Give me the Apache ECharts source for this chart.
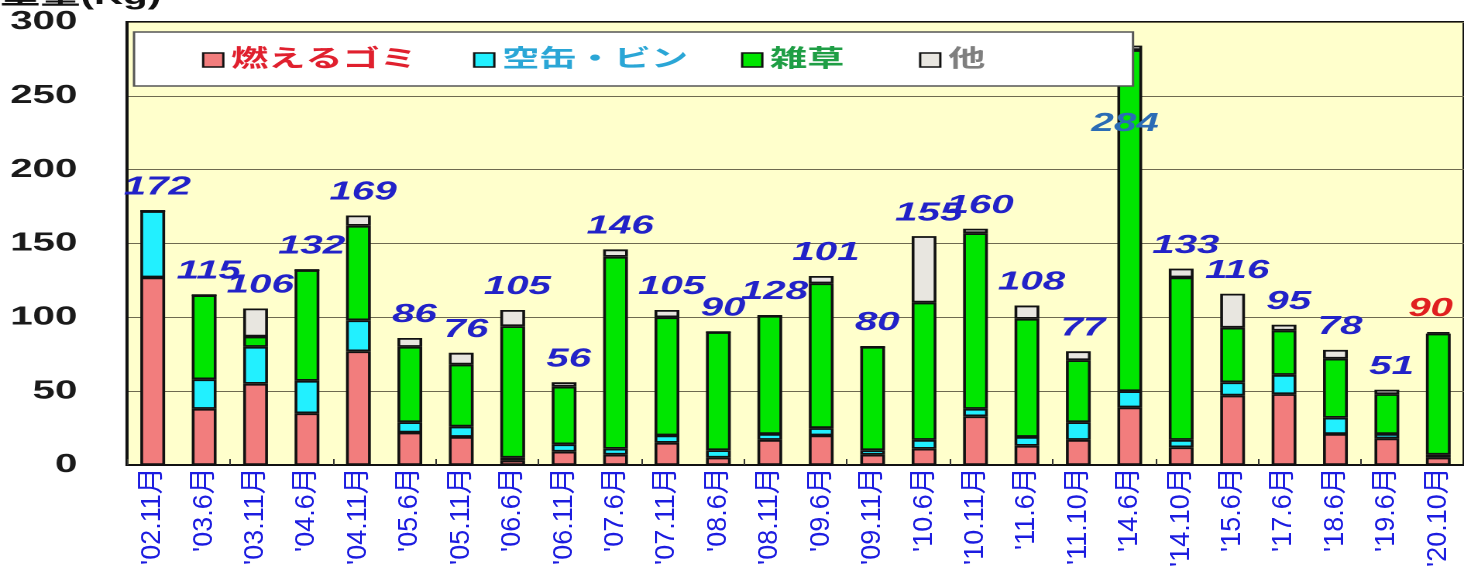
<!DOCTYPE html>
<html>
<head>
<meta charset="utf-8">
<script src="https://cdn.jsdelivr.net/npm/echarts@6/dist/echarts.min.js"></script>
<style>
html,body{margin:0;padding:0;background:#fff;overflow:hidden;}
#wrap{position:relative;width:1464px;height:570px;overflow:hidden;}
#a{position:absolute;left:0;top:0;width:945px;height:570px;transform-origin:0 0;transform:scaleX(1.54921);}
#b{position:absolute;left:0;top:0;width:1464px;height:570px;}
</style>
</head>
<body>
<div id="wrap"><div id="a"></div><div id="b"></div></div>
<script>
// ---- data ----
const categories = ["'02.11月","'03.6月","'03.11月","'04.6月","'04.11月","'05.6月","'05.11月","'06.6月","'06.11月","'07.6月","'07.11月","'08.6月","'08.11月","'09.6月","'09.11月","'10.6月","'10.11月","'11.6月","'11.10月","'14.6月","'14.10月","'15.6月","'17.6月","'18.6月","'19.6月","'20.10月"];
const burnable = [127,38,55,35,77,22,19,3,9,7,15,5,17,20,7,11,33,13,17,39,12,47,48,21,18,5];
const cans     = [45,20,25,22,21,7,7,2,5,4,5,5,4,5,3,6,5,6,12,11,5,9,13,11,3,2];
const weeds    = [0,57,7,75,64,51,42,89,39,130,80,80,80,98,70,93,119,80,42,231,110,37,30,40,27,82];
const other    = [0,0,19,0,7,6,8,11,3,5,5,0,0,5,0,45,3,9,6,3,6,23,4,6,3,1];
const totalLabels = ["172","115","106","132","169","86","76","105","56","146","105","90","128","101","80","155","160","108","77","284","133","116","95","78","51","90"];
const yTicks = [0,50,100,150,200,250,300];
const seriesNames = ['燃えるゴミ','空缶・ビン','雑草','他'];

// ---- styles ----
const S = 1464/945;
const px = v => v / S;               // original x px -> chart A px
const fillColors = ['#f27d7d','#22f0ff','#00e600','#e8e6e0'];
const legendTextColors = ['#e0202e','#2aa6d6','#1f9e45','#7f7f7f'];
const legendLefts = [202, 473, 741, 919];
const labelBlue = '#2222c8';
const cjk = "'Liberation Sans','Noto Sans CJK JP',sans-serif";

const gridA = {left: px(127), top: 22, width: px(1342), height: 443, show: true,
  backgroundColor: '#ffffcc', borderColor: '#111', borderWidth: 2};

const barStyle = c => ({color: c, borderColor: '#111', borderWidth: 1.8});
const values = [burnable, cans, weeds, other];

const series = values.map((arr, k) => {
  const s = {
    name: seriesNames[k], type: 'bar', stack: 'total', barWidth: 16,
    itemStyle: barStyle(fillColors[k]), z: 2,
    data: arr.slice()
  };
  if (k === 3) {
    s.data = arr.map((v, i) => {
      const o = {value: v};
      if (totalLabels[i] === '284') o.label = {offset: [-3, 101], color: '#2b6cb5'};
      if (i === arr.length - 1) o.label = {color: '#e02020', offset: [-5, 0]};
      return o;
    });
    s.label = {
      show: true, position: 'top', distance: 10, offset: [3, 0],
      formatter: p => totalLabels[p.dataIndex],
      color: labelBlue, fontSize: 26, fontWeight: 'bold', fontStyle: 'italic',
      fontFamily: "'Liberation Sans',Arial,sans-serif"
    };
  }
  return s;
});

const legends = seriesNames.map((n, k) => ({
  data: [{name: n, itemStyle: {color: fillColors[k], borderColor: '#111', borderWidth: 1.5},
          textStyle: {color: legendTextColors[k]}}],
  left: px(legendLefts[k]), top: 47, padding: 0, itemGap: 0,
  itemWidth: 13, itemHeight: 14, icon: 'rect', z: 20, selectedMode: false,
  textStyle: {fontSize: 24, fontWeight: 'bold', fontFamily: cjk, lineHeight: 26, padding: [0,0,0,0]}
}));

const chartA = echarts.init(document.getElementById('a'), null, {devicePixelRatio: 2});
chartA.setOption({
  backgroundColor: '#fff',
  animation: false,
  title: {text: '重量(Kg)', left: 0, top: -16, padding: 0,
    textStyle: {fontSize: 26, fontWeight: 'bold', color: '#111', fontFamily: cjk, lineHeight: 26}},
  grid: gridA,
  legend: legends,
  graphic: [{type: 'rect', z: 10, shape: {x: px(134), y: 32, width: px(1133) - px(134), height: 54},
    style: {fill: '#ffffff', stroke: '#555', lineWidth: 1.5}}],
  xAxis: {type: 'category', data: categories,
    axisLine: {show: true, lineStyle: {color: '#111', width: 2}},
    axisTick: {show: true, inside: true, length: 6, lineStyle: {color: '#333', width: 1}},
    axisLabel: {show: false}},
  yAxis: {type: 'value', min: yTicks[0], max: yTicks[yTicks.length - 1], interval: yTicks[1] - yTicks[0],
    axisLine: {show: true, lineStyle: {color: '#111', width: 2}},
    axisTick: {show: false},
    splitLine: {show: true, lineStyle: {color: '#6e6a50', width: 1}},
    axisLabel: {margin: 32, fontSize: 26, fontWeight: 'bold', color: '#1a1a1a',
      fontFamily: "'Liberation Sans',Arial,sans-serif"}},
  series: series
});

const chartB = echarts.init(document.getElementById('b'), null, {devicePixelRatio: 1});
chartB.setOption({
  animation: false,
  grid: {left: 127, top: 22, width: 1342, height: 443, show: false},
  xAxis: {type: 'category', data: categories,
    axisLine: {show: false}, axisTick: {show: false},
    axisLabel: {rotate: 90, interval: 0, margin: 13, fontSize: 27, color: '#1c1ce0',
      fontFamily: cjk}},
  yAxis: {type: 'value', min: 0, max: 300, show: false},
  series: []
});
</script>
</body>
</html>
